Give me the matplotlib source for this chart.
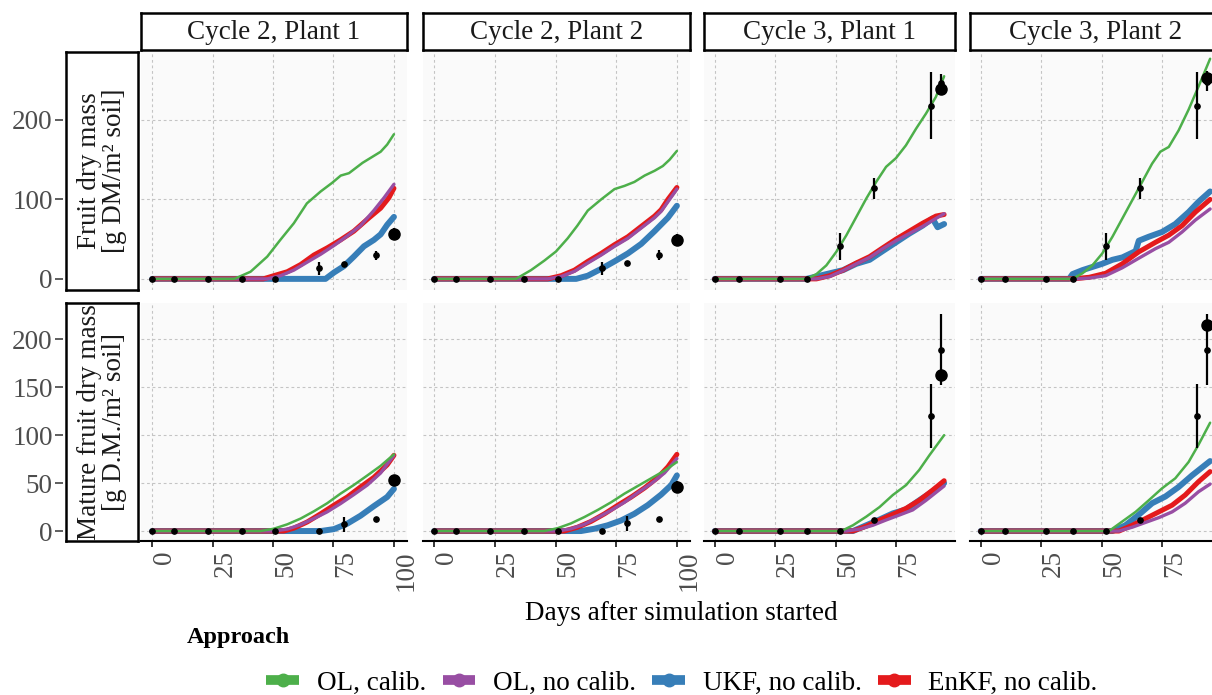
import matplotlib
matplotlib.use("Agg")
import matplotlib.pyplot as plt
from matplotlib.lines import Line2D

plt.rcParams['font.family'] = ['Liberation Serif', 'DejaVu Serif']

# ---------------- labels ----------------
col_titles = ["Cycle 2, Plant 1", "Cycle 2, Plant 2", "Cycle 3, Plant 1", "Cycle 3, Plant 2"]
row_titles = ["Fruit dry mass\n[g DM/m\u00b2 soil]", "Mature fruit dry mass\n[g D.M./m\u00b2 soil]"]
series_names = ["OL, calib.", "OL, no calib.", "UKF, no calib.", "EnKF, no calib."]
series_colors = ["#4DAF4A", "#984EA3", "#377EB8", "#E41A1C"]
x_title = "Days after simulation started"
legend_title = "Approach"
xticks_c2 = [0, 25, 50, 75, 100]
xticks_c3 = [0, 25, 50, 75]
yticks_fruit = [0, 100, 200]
yticks_mature = [0, 50, 100, 150, 200]

# ---------------- observations ----------------
obs_day_c2 = [0, 8.9, 23, 37, 51, 69, 79.4, 92.7]
obs_day_c3 = [0, 10, 27, 38, 52, 65.7, 89.5, 93.5]
harvest_day_c2 = 100
harvest_day_c3 = 93.5

obs_fruit_c2p1 = [0, 0, 0, 0, 0, 13.5, 18.5, 29.5]
obs_fruit_c2p1_err = [0, 0, 0, 0, 0, 8, 3, 6]
obs_fruit_c2p2 = [0, 0, 0, 0, 0, 13.5, 20, 30]
obs_fruit_c2p2_err = [0, 0, 0, 0, 0, 8, 3, 6]
obs_fruit_c3p1 = [0, 0, 0, 0, 41, 114, 218, 246]
obs_fruit_c3p1_err = [0, 0, 0, 0, 17, 13, 42, 12]
obs_fruit_c3p2 = [0, 0, 0, 0, 41, 114, 218, 248]
obs_fruit_c3p2_err = [0, 0, 0, 0, 17, 13, 42, 12]

obs_mature_c2p1 = [0, 0, 0, 0, 0, 0, 7, 13]
obs_mature_c2p1_err = [0, 0, 0, 0, 0, 0, 8, 0]
obs_mature_c2p2 = [0, 0, 0, 0, 0, 0, 8, 13]
obs_mature_c2p2_err = [0, 0, 0, 0, 0, 0, 8, 0]
obs_mature_c3p1 = [0, 0, 0, 0, 0, 11.5, 120, 189]
obs_mature_c3p1_err = [0, 0, 0, 0, 0, 0, 33, 37]
obs_mature_c3p2 = [0, 0, 0, 0, 0, 11.5, 120, 189]
obs_mature_c3p2_err = [0, 0, 0, 0, 0, 0, 33, 37]

harvest_fruit = [57, 49, 239, 253]
harvest_fruit_err = [7, 7, 0, 9]
harvest_mature = [53, 46, 163, 215]
harvest_mature_err = [5, 6, 0, 0]

# ---------------- simulated fruit dry mass ----------------
# Cycle 2, Plant 1
fruit_c2p1_olc_day = [0, 34, 40.7, 47.6, 53, 58.6, 64, 69.7, 74.5, 78, 81.4, 87, 94.5, 97.2, 100]
fruit_c2p1_olc = [0, 0, 9, 28, 49, 70, 95, 110, 121, 130, 133, 146, 160, 169, 182]
fruit_c2p1_oln_day = [0, 47.6, 53.1, 58.6, 64.1, 69.7, 75.2, 80.7, 86.2, 91.7, 95.9, 100]
fruit_c2p1_oln = [0, 0, 4, 11, 21, 31, 42, 54, 67, 86, 102, 119]
fruit_c2p1_ukf_day = [0, 71.7, 75.2, 79.3, 83.4, 87.6, 91.7, 94.5, 97.2, 100]
fruit_c2p1_ukf = [0, 0, 8, 16, 28, 41, 49, 56, 68, 78]
fruit_c2p1_enkf_day = [0, 46, 50.3, 55.9, 61.4, 66.9, 72.4, 77.9, 83.4, 89, 94.5, 97.9, 100]
fruit_c2p1_enkf = [0, 0, 4, 9, 18, 30, 39, 49, 60, 75, 89, 102, 114]
# Cycle 2, Plant 2
fruit_c2p2_olc_day = [0, 33.7, 39.9, 45.4, 50.2, 55, 59, 63.3, 68.8, 74.3, 78.4, 82.5, 86.7, 90.8, 94.2, 97, 100]
fruit_c2p2_olc = [0, 0, 11, 23, 34.5, 51, 67, 86, 100, 113, 117, 122, 130, 136, 142, 150, 161]
fruit_c2p2_oln_day = [0, 46.8, 52.3, 57.8, 63.3, 68.8, 74.3, 79.8, 85.3, 90.8, 93.5, 96.3, 100]
fruit_c2p2_oln = [0, 0, 3, 9.5, 20, 30, 41, 51, 64, 77, 85, 97, 113]
fruit_c2p2_ukf_day = [0, 58.5, 63.3, 68.8, 74.3, 79.8, 85.3, 90.8, 96.3, 100]
fruit_c2p2_ukf = [0, 0, 4, 12.6, 22, 32, 44, 60, 77, 92]
fruit_c2p2_enkf_day = [0, 46.8, 52.3, 57.8, 63.3, 68.8, 74.3, 79.8, 85.3, 90.8, 93.5, 96.3, 100]
fruit_c2p2_enkf = [0, 0, 4, 11, 22, 32, 43, 53, 66, 79, 87, 100, 115]
# Cycle 3, Plant 1
fruit_c3p1_olc_day = [0, 38, 42.1, 46.2, 50.3, 54.5, 58.6, 62.7, 66.8, 70.9, 75, 79.1, 83.3, 87.4, 91.5, 94.9]
fruit_c3p1_olc = [0, 0, 6, 17, 34, 55, 78, 101, 122, 141, 152, 168, 189, 208, 229, 255]
fruit_c3p1_oln_day = [0, 42.1, 47.6, 53.1, 58.6, 64.1, 69.5, 75, 80.5, 86, 91.5, 94.9]
fruit_c3p1_oln = [0, 0, 3, 10.5, 19, 27, 38, 48, 57, 66, 76, 82]
fruit_c3p1_ukf_day = [0, 38, 42.1, 47.6, 53.1, 58.6, 64.1, 69.5, 75, 80.5, 86, 90.1, 92.2, 94.9]
fruit_c3p1_ukf = [0, 0, 3, 7, 11, 19, 24, 35, 46, 57, 67, 76, 65, 69]
fruit_c3p1_enkf_day = [0, 42.1, 47.6, 53.1, 58.6, 64.1, 69.5, 75, 80.5, 86, 91.5, 94.9]
fruit_c3p1_enkf = [0, 0, 4, 11, 20, 28, 39, 50, 60, 70, 79, 81]
# Cycle 3, Plant 2
fruit_c3p2_olc_day = [0, 38, 42.1, 46.2, 50.3, 54.5, 58.6, 62.7, 66.8, 70.9, 74.3, 77.8, 81.9, 86, 90.1, 94.9]
fruit_c3p2_olc = [0, 0, 7, 17, 32, 53, 76, 99, 122, 145, 160, 166, 187, 213, 242, 277]
fruit_c3p2_oln_day = [0, 39.4, 44.9, 51.7, 58.6, 65.4, 72.3, 77.8, 83.3, 88.8, 94.9]
fruit_c3p2_oln = [0, 0, 1, 4, 14, 26, 38, 46, 59, 74, 88]
fruit_c3p2_ukf_day = [0, 36.6, 38, 42.1, 46.2, 50.3, 54.5, 58.6, 64.1, 65.4, 69.5, 75, 80.5, 86, 90.1, 94.9]
fruit_c3p2_ukf = [0, 0, 6, 11, 15, 19, 24, 27, 35, 48, 53, 59, 69, 84, 97, 110]
fruit_c3p2_enkf_day = [0, 38, 44.9, 51.7, 58.6, 65.4, 72.3, 77.8, 83.3, 88.8, 94.9]
fruit_c3p2_enkf = [0, 0, 2, 7, 19, 34, 46, 55, 67, 84, 100]

# ---------------- simulated mature fruit dry mass ----------------
# Cycle 2, Plant 1
mature_c2p1_olc_day = [0, 44.8, 50.3, 55.9, 61.4, 66.9, 72.4, 77.9, 83.4, 89, 94.5, 100]
mature_c2p1_olc = [0, 0, 2.4, 7, 13, 20.6, 29, 39, 48, 58, 68, 80]
mature_c2p1_oln_day = [0, 50.3, 55.9, 61.4, 66.9, 72.4, 77.9, 83.4, 89, 94.5, 100]
mature_c2p1_oln = [0, 0, 2, 6.6, 13, 20, 28.6, 38, 48, 60.6, 79]
mature_c2p1_ukf_day = [0, 69.7, 75.2, 80.7, 86.2, 91.7, 97.2, 100]
mature_c2p1_ukf = [0, 0, 2, 7.7, 16, 26, 35.5, 44]
mature_c2p1_enkf_day = [0, 54.5, 58.6, 64.1, 69.7, 75.2, 80.7, 86.2, 91.7, 97.2, 100]
mature_c2p1_enkf = [0, 0, 3, 9.4, 18, 27, 35.5, 46, 56, 69, 79]
# Cycle 2, Plant 2
mature_c2p2_olc_day = [0, 45.4, 50.9, 56.4, 61.9, 67.4, 72.9, 78.4, 83.9, 89.4, 94.9, 100]
mature_c2p2_olc = [0, 0, 3, 8, 14.6, 22, 30, 39, 47, 55, 63, 72]
mature_c2p2_oln_day = [0, 50.9, 56.4, 61.9, 67.4, 72.9, 78.4, 83.9, 89.4, 94.9, 100]
mature_c2p2_oln = [0, 0, 2.4, 7, 14, 21.6, 30, 40, 49.5, 60.6, 75.6]
mature_c2p2_ukf_day = [0, 60.5, 66, 71.5, 77, 82.5, 88, 93.5, 97.7, 100]
mature_c2p2_ukf = [0, 0, 2.4, 6, 11, 18, 27, 38, 48, 58]
mature_c2p2_enkf_day = [0, 53.6, 59.1, 64.6, 70.2, 75.7, 81.2, 86.7, 92.2, 96.3, 100]
mature_c2p2_enkf = [0, 0, 4, 10, 18, 27, 35.5, 45, 56, 67, 80]
# Cycle 3, Plant 1
mature_c3p1_olc_day = [0, 52.4, 57.2, 62.7, 68.2, 73.7, 79.2, 84.6, 88.8, 94.9]
mature_c3p1_olc = [0, 0, 6, 15, 25, 37.6, 48, 63.7, 79, 100]
mature_c3p1_oln_day = [0, 54.5, 59.9, 65.4, 70.9, 76.4, 81.9, 87.4, 94.9]
mature_c3p1_oln = [0, 0, 2, 6, 11.5, 16.7, 22, 32, 47]
mature_c3p1_ukf_day = [0, 57.2, 62.7, 68.2, 73.7, 79.2, 84.6, 88.8, 94.9]
mature_c3p1_ukf = [0, 0, 6, 12, 18.4, 22.6, 32, 39, 50]
mature_c3p1_enkf_day = [0, 57.2, 62.7, 68.2, 73.7, 79.2, 84.6, 90.1, 94.9]
mature_c3p1_enkf = [0, 0, 5, 11.5, 17.4, 23.7, 32, 42.6, 52.5]
# Cycle 3, Plant 2
mature_c3p2_olc_day = [0, 53.1, 58.6, 64.1, 69.5, 75, 80.5, 86, 90.1, 94.9]
mature_c3p2_olc = [0, 0, 10, 20, 32, 44.5, 55, 72, 90, 113]
mature_c3p2_oln_day = [0, 57.2, 62.7, 68.2, 73.7, 79.2, 84.6, 90.1, 94.9]
mature_c3p2_oln = [0, 0, 4, 9, 14, 20, 29, 41, 49]
mature_c3p2_ukf_day = [0, 54.5, 59.9, 65.4, 70.9, 76.4, 81.9, 87.4, 94.9]
mature_c3p2_ukf = [0, 0, 6, 17, 29, 36, 46, 58, 73]
mature_c3p2_enkf_day = [0, 57.2, 62.7, 68.2, 73.7, 79.2, 84.6, 90.1, 94.9]
mature_c3p2_enkf = [0, 0, 6, 13, 20, 27, 37.6, 51.5, 62]

# ---------------- assemble panels ----------------
fruit_sim = [
    [(fruit_c2p1_olc_day, fruit_c2p1_olc), (fruit_c2p1_oln_day, fruit_c2p1_oln),
     (fruit_c2p1_ukf_day, fruit_c2p1_ukf), (fruit_c2p1_enkf_day, fruit_c2p1_enkf)],
    [(fruit_c2p2_olc_day, fruit_c2p2_olc), (fruit_c2p2_oln_day, fruit_c2p2_oln),
     (fruit_c2p2_ukf_day, fruit_c2p2_ukf), (fruit_c2p2_enkf_day, fruit_c2p2_enkf)],
    [(fruit_c3p1_olc_day, fruit_c3p1_olc), (fruit_c3p1_oln_day, fruit_c3p1_oln),
     (fruit_c3p1_ukf_day, fruit_c3p1_ukf), (fruit_c3p1_enkf_day, fruit_c3p1_enkf)],
    [(fruit_c3p2_olc_day, fruit_c3p2_olc), (fruit_c3p2_oln_day, fruit_c3p2_oln),
     (fruit_c3p2_ukf_day, fruit_c3p2_ukf), (fruit_c3p2_enkf_day, fruit_c3p2_enkf)],
]
mature_sim = [
    [(mature_c2p1_olc_day, mature_c2p1_olc), (mature_c2p1_oln_day, mature_c2p1_oln),
     (mature_c2p1_ukf_day, mature_c2p1_ukf), (mature_c2p1_enkf_day, mature_c2p1_enkf)],
    [(mature_c2p2_olc_day, mature_c2p2_olc), (mature_c2p2_oln_day, mature_c2p2_oln),
     (mature_c2p2_ukf_day, mature_c2p2_ukf), (mature_c2p2_enkf_day, mature_c2p2_enkf)],
    [(mature_c3p1_olc_day, mature_c3p1_olc), (mature_c3p1_oln_day, mature_c3p1_oln),
     (mature_c3p1_ukf_day, mature_c3p1_ukf), (mature_c3p1_enkf_day, mature_c3p1_enkf)],
    [(mature_c3p2_olc_day, mature_c3p2_olc), (mature_c3p2_oln_day, mature_c3p2_oln),
     (mature_c3p2_ukf_day, mature_c3p2_ukf), (mature_c3p2_enkf_day, mature_c3p2_enkf)],
]
obs_days = [obs_day_c2, obs_day_c2, obs_day_c3, obs_day_c3]
harvest_days = [harvest_day_c2, harvest_day_c2, harvest_day_c3, harvest_day_c3]
fruit_obs = [(obs_fruit_c2p1, obs_fruit_c2p1_err), (obs_fruit_c2p2, obs_fruit_c2p2_err),
             (obs_fruit_c3p1, obs_fruit_c3p1_err), (obs_fruit_c3p2, obs_fruit_c3p2_err)]
mature_obs = [(obs_mature_c2p1, obs_mature_c2p1_err), (obs_mature_c2p2, obs_mature_c2p2_err),
              (obs_mature_c3p1, obs_mature_c3p1_err), (obs_mature_c3p2, obs_mature_c3p2_err)]

rows = [
    dict(sim=fruit_sim, obs=fruit_obs, harvest=harvest_fruit, harvest_err=harvest_fruit_err,
         yticks=yticks_fruit, ylim=(-14, 285.5)),
    dict(sim=mature_sim, obs=mature_obs, harvest=harvest_mature, harvest_err=harvest_mature_err,
         yticks=yticks_mature, ylim=(-10.4, 237.9)),
]

# ---------------- layout (pixels) ----------------
W, H = 1212, 695
fig = plt.figure(figsize=(W / 100, H / 100), dpi=100)
fig.patch.set_facecolor("white")

col_px = [(141, 407), (423, 690), (704, 955), (970, 1221)]
row_px = [(52, 290), (303, 541)]
xlims = [(-4.6, 105.4), (-4.6, 105.4), (-4.4, 99.4), (-4.4, 99.4)]
xticks_cols = [xticks_c2, xticks_c2, xticks_c3, xticks_c3]
line_widths = [1.8, 2.4, 4.3, 3.6]
draw_order = [2, 3, 1, 0]   # UKF bottom, then EnKF, OL no calib., OL calib.
FS = 19.5
tick_grey = "#4D4D4D"


def px_rect(x0, x1, y0, y1):
    return [x0 / W, 1 - y1 / H, (x1 - x0) / W, (y1 - y0) / H]


for r, row in enumerate(rows):
    y0, y1 = row_px[r]
    for c in range(4):
        x0, x1 = col_px[c]
        ax = fig.add_axes(px_rect(x0, x1, y0, y1))
        ax.set_facecolor("#FAFAFA")
        ax.set_xlim(*xlims[c])
        ax.set_ylim(*row["ylim"])
        ax.set_xticks(xticks_cols[c])
        ax.set_yticks(row["yticks"])
        ax.grid(True, color="#C4C4C4", linestyle=(0, (2.5, 2.5)), linewidth=0.8)
        ax.set_axisbelow(True)
        for s in ax.spines.values():
            s.set_visible(False)

        for k in draw_order:
            d, v = row["sim"][c][k]
            ax.plot(d, v, color=series_colors[k], lw=line_widths[k],
                    solid_capstyle="round", solid_joinstyle="round", zorder=3 + draw_order.index(k))

        ov, oe = row["obs"][c]
        ax.errorbar(obs_days[c], ov, yerr=oe, fmt="o", color="black", ms=3.8,
                    elinewidth=1.6, capsize=0, zorder=10)
        ax.errorbar([harvest_days[c]], [row["harvest"][c]], yerr=[row["harvest_err"][c]],
                    fmt="o", color="black", ms=8, elinewidth=1.6, capsize=0, zorder=10)

        # y axis: only on first column, placed outside the row strip
        if c == 0:
            ax.spines["left"].set_position(("outward", 56))
            ax.tick_params(axis="y", length=5.5, width=1.1, color="#333333", pad=2,
                           labelsize=FS, labelcolor=tick_grey)
        else:
            ax.tick_params(axis="y", left=False, labelleft=False)

        # x axis: only on the bottom row
        if r == 1:
            ax.spines["bottom"].set_visible(True)
            ax.spines["bottom"].set_linewidth(1.5)
            ax.spines["bottom"].set_color("black")
            ax.tick_params(axis="x", length=4.5, width=1.1, color="black", pad=2,
                           labelsize=FS, labelcolor=tick_grey)
            for lab in ax.get_xticklabels():
                lab.set_rotation(90)
                lab.set_ha("left")
                lab.set_va("top")
        else:
            ax.tick_params(axis="x", bottom=False, labelbottom=False)

# column strips
for c in range(4):
    x0, x1 = col_px[c]
    sax = fig.add_axes(px_rect(x0, x1, 13, 50))
    sax.set_xticks([]); sax.set_yticks([])
    sax.set_facecolor("white")
    for s in sax.spines.values():
        s.set_linewidth(1.8); s.set_color("black")
    sax.text(0.5, 0.47, col_titles[c], ha="center", va="center", fontsize=FS,
             color="#1A1A1A", transform=sax.transAxes)

# row strips
for r in range(2):
    y0, y1 = row_px[r]
    sax = fig.add_axes(px_rect(66, 138, y0, y1))
    sax.set_xticks([]); sax.set_yticks([])
    sax.set_facecolor("white")
    for s in sax.spines.values():
        s.set_linewidth(1.8); s.set_color("black")
    sax.text(0.5, 0.5, row_titles[r], ha="center", va="center", fontsize=FS,
             color="#1A1A1A", rotation=90, linespacing=0.95, multialignment="center",
             transform=sax.transAxes, clip_on=False)

# axis title
fig.text(681 / W, 1 - 613 / H, x_title, ha="center", va="center", fontsize=FS, color="black")

# legend
fig.text(187 / W, 1 - 638 / H, legend_title, ha="left", va="center", fontsize=17.5,
         fontweight="bold", color="black")
handles = [Line2D([0], [0], color=col, lw=7, marker="o", ms=9, solid_capstyle="butt")
           for col in series_colors]
fig.legend(handles, series_names, loc="center", bbox_to_anchor=(682 / W, 1 - 683 / H),
           ncol=4, frameon=False, fontsize=FS, handlelength=1.2, handletextpad=0.65,
           columnspacing=0.62, borderaxespad=0, borderpad=0)

fig.savefig("out.png", dpi=100)
